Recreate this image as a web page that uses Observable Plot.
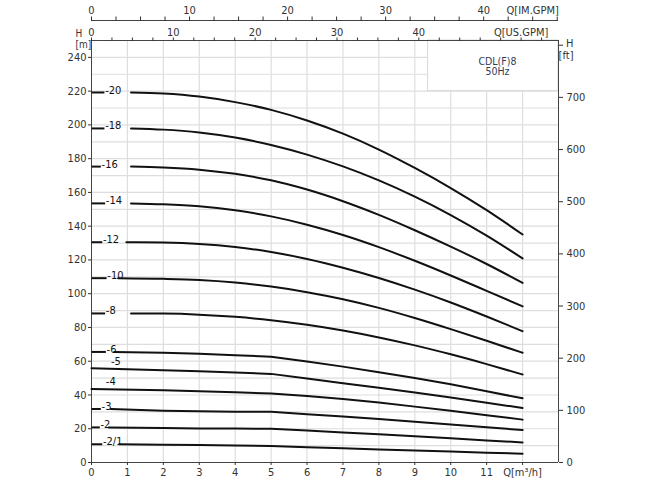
<!DOCTYPE html>
<html><head><meta charset="utf-8">
<script src="https://cdn.jsdelivr.net/npm/d3@7"></script>
<script src="https://cdn.jsdelivr.net/npm/@observablehq/plot@0.6"></script>
<style>
body{margin:0;background:#fff;}
#chart svg{display:block;}
</style></head><body><div id="chart"></div>
<script>
// pump models (stage counts)
const models = ["-20","-18","-16","-14","-12","-10","-8","-6","-5","-4","-3","-2","-2/1"];
// flow where each drawn curve begins, and end of the short marker stub at the H axis
const startQ  = [1.1, 1.1, 1.1, 1.1, 0.97, 0.74, 1.1, 0.63, 0, 0, 0.54, 0.48, 0.77];
const stubEndQ = [0.36, 0.36, 0.26, 0.38, 0.3, 0.42, 0.38, 0.4, 0, 0, 0.26, 0.23, 0.3];
// flow points (m3/h) after the start point
const qPoints = [2, 3, 4, 5, 6, 7, 8, 9, 10, 11, 12];
// head values (m): first value at startQ, then at qPoints
const h20  = [219.2, 218.6, 216.8, 213.5, 208.9, 202.6, 194.8, 185.4, 174.5, 162.6, 149.5, 135.1];
const h18  = [197.9, 197.2, 195.5, 192.5, 188.1, 182.4, 175.4, 167.1, 157.5, 146.6, 134.4, 120.9];
const h16  = [175.3, 174.8, 173.5, 171.0, 167.2, 161.7, 154.8, 146.7, 137.6, 127.9, 117.6, 106.4];
const h14  = [153.5, 153.0, 151.8, 149.4, 145.8, 140.9, 134.8, 127.6, 119.5, 110.8, 101.7, 92.5];
const h12  = [130.5, 130.3, 129.5, 127.7, 124.7, 120.6, 115.4, 109.3, 102.4, 94.8, 86.5, 77.8];
const h10  = [109.2, 108.8, 108.1, 106.6, 104.2, 100.9, 96.7, 91.6, 85.6, 79.0, 72.1, 65.0];
const h8   = [88.3, 88.2, 87.6, 86.3, 84.3, 81.6, 78.2, 74.1, 69.4, 64.1, 58.3, 52.1];
const h6   = [65.5, 65.0, 64.4, 63.6, 62.6, 59.8, 56.8, 53.5, 50.0, 46.3, 42.2, 38.0];
const h5   = [55.9, 54.7, 54.1, 53.3, 52.5, 49.7, 47.0, 44.3, 41.5, 38.5, 35.4, 32.3];
const h4   = [43.6, 42.8, 42.2, 41.6, 40.9, 39.4, 37.6, 35.5, 33.1, 30.6, 28.0, 25.4];
const h3   = [31.7, 30.7, 30.3, 30.1, 30.0, 28.6, 27.2, 25.7, 24.1, 22.5, 20.9, 19.2];
const h2   = [20.8, 20.4, 20.2, 20.1, 20.0, 18.9, 17.8, 16.7, 15.5, 14.3, 13.1, 11.9];
const h21  = [10.8, 10.5, 10.3, 10.1, 9.8, 9.1, 8.4, 7.7, 7.1, 6.5, 5.8, 5.2];
const heads = [h20, h18, h16, h14, h12, h10, h8, h6, h5, h4, h3, h2, h21];

// axis ticks
const xTicks = [0,1,2,3,4,5,6,7,8,9,10,11,12];
const yTicks = [0,20,40,60,80,100,120,140,160,180,200,220,240];
const ftTicks = [0,100,200,300,400,500,600,700,800];
const usTicks = d3.range(0, 55.01, 2.5);
const imTicks = d3.range(0, 47.51, 2.5);
const usLabels = [0, 10, 20, 30, 40];
const imLabels = [0, 10, 20, 30, 40];
const US_PER_M3H = 4.39, IM_PER_M3H = 3.664, M_PER_FT = 0.309;
const modelName = "CDL(F)8";
const freqName = "50Hz";

const rows = [];
const stubs = [];
models.forEach((m, i) => {
  const hs = heads[i];
  rows.push({model: m, i, Q: startQ[i], H: hs[0]});
  qPoints.forEach((q, j) => rows.push({model: m, i, Q: q, H: hs[j + 1]}));
  stubs.push({model: m, i, end: stubEndQ[i], H: hs[0]});
});
const withStub = stubs.filter(d => d.end > 0);
const noStub = stubs.filter(d => d.end === 0);
const aboveQ = {"-5": 0.54, "-4": 0.4};

const font = "'Liberation Sans Narrow','DejaVu Sans Condensed',sans-serif";
const gridStyle = {stroke: "#dedede", strokeOpacity: 1, strokeWidth: 1.2};
const fmt1 = v => Math.round(v * 10) / 10;

const chart = Plot.plot({
  width: 650, height: 486,
  marginLeft: 91, marginRight: 92, marginTop: 40, marginBottom: 24,
  style: {fontFamily: font, fontSize: "11px", color: "#333", background: "white"},
  x: {domain: [0, 13]},
  y: {domain: [0, 250]},
  marks: [
    Plot.gridY(d3.range(10, 251, 10), gridStyle),
    Plot.gridX(d3.range(1, 13), gridStyle),
    Plot.rect([0], {x1: 9.37, x2: 13, y1: 220, y2: 250, fill: "white", stroke: "#d8d8d8"}),
    Plot.text([modelName + "\n" + freqName], {x: 11.3, y: 234.5, fill: "#2f3d5c", fontSize: 10.5, lineHeight: 1}),
    Plot.ruleX([0], {stroke: "#444"}),
    Plot.ruleX([13], {stroke: "#444"}),
    Plot.ruleY([0], {stroke: "#444"}),
    Plot.ruleY([250], {stroke: "#444"}),
    Plot.ruleY([250], {stroke: "#444", dy: -20}),
    Plot.axisX(xTicks, {anchor: "bottom", tickSize: 3, tickPadding: 3, label: null,
      tickFormat: d => d === 12 ? "Q[m³/h]" : String(d)}),
    Plot.axisY(yTicks, {anchor: "left", tickSize: 3, tickPadding: 2, label: null}),
    Plot.axisY(ftTicks.map(f => f * M_PER_FT), {anchor: "right", tickSize: 4, tickPadding: 4, label: null,
      tickFormat: v => { const f = Math.round(v / M_PER_FT); return f === 800 ? "" : String(f); }}),
    Plot.axisX(usTicks.map(g => g / US_PER_M3H), {anchor: "top", tickSize: 3.5, tickPadding: 1.5, label: null,
      tickFormat: v => { const g = fmt1(v * US_PER_M3H); return g === 52.5 ? "Q[US.GPM]" : (usLabels.includes(g) ? String(g) : ""); }}),
    Plot.axisX(imTicks.map(g => g / IM_PER_M3H), {anchor: "top", tickSize: 4.5, tickPadding: 2, dy: -20, label: null,
      tickFormat: v => { const g = fmt1(v * IM_PER_M3H); return g === 45 ? "Q[IM.GPM]" : (imLabels.includes(g) ? String(g) : ""); }}),
    Plot.text(["H"], {frameAnchor: "top-left", dx: -16, dy: -11, fill: "#333", fontSize: 10}),
    Plot.text(["[m]"], {frameAnchor: "top-left", dx: -16, dy: 0.5, fill: "#333", fontSize: 10}),
    Plot.text(["H"], {frameAnchor: "top-right", dx: 15, dy: -1, fill: "#333"}),
    Plot.text(["[ft]"], {frameAnchor: "top-right", dx: 15, dy: 11, fill: "#333"}),
    Plot.link(withStub, {x1: 0, x2: "end", y1: "H", y2: "H", stroke: "#111", strokeWidth: 2}),
    Plot.line(rows.filter(d => d.i <= 6), {x: "Q", y: "H", z: "model", curve: "monotone-x", stroke: "#111", strokeWidth: 2}),
    Plot.line(rows.filter(d => d.i > 6), {x: "Q", y: "H", z: "model", curve: "linear", stroke: "#111", strokeWidth: 2}),
    Plot.text(withStub, {x: d => d.end + 0.02, y: "H", text: "model", textAnchor: "start", dy: -2.5, fill: "#111", fontSize: 11}),
    Plot.text(noStub, {x: d => aboveQ[d.model], y: "H", text: "model", textAnchor: "start", dy: -7, fill: "#111", fontSize: 11})
  ]
});
document.getElementById("chart").append(chart);
</script>
</body></html>
